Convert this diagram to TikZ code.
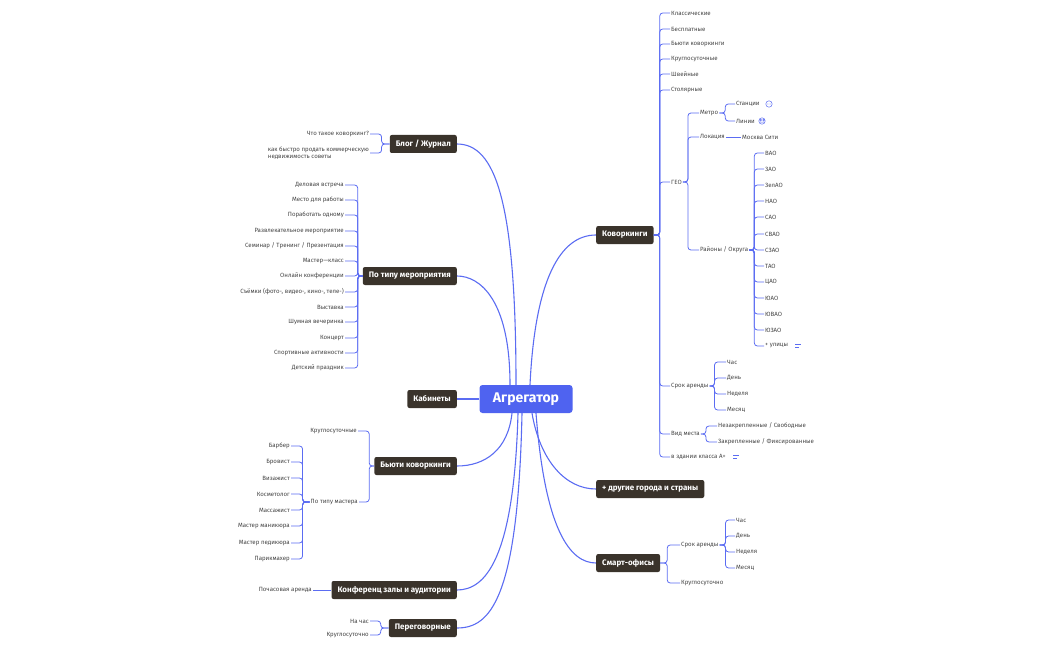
\documentclass[tikz,border=0pt]{standalone}
\usepackage{fontspec}
\setmainfont{Fira Sans}
\usetikzlibrary{backgrounds}
\definecolor{ln}{HTML}{5B6CF2}
\definecolor{dk}{HTML}{3A332B}
\definecolor{cb}{HTML}{4F63F0}
\definecolor{tx}{HTML}{444444}
\tikzset{
 main/.style={fill=dk,text=white,rounded corners=2pt,font=\fontsize{8}{9}\selectfont\bfseries,minimum height=18pt,inner xsep=6pt},
 lw/.style={anchor=west,inner sep=1pt,text=tx,font=\fontsize{6.1}{7}\selectfont},
 le/.style={anchor=east,inner sep=1pt,text=tx,font=\fontsize{6.1}{7}\selectfont},
 br/.style={draw=ln,line width=0.8pt,rounded corners=3pt},
 mc/.style={draw=ln,line width=1.1pt},
 ic/.style={draw=ln,line width=0.5pt}
}
\begin{document}
\begin{tikzpicture}[x=1pt,y=-1pt]
\useasboundingbox (0,0) rectangle (1050,650);
\node[fill=cb,text=white,rounded corners=3pt,minimum width=93pt,minimum height=28pt,font=\fontsize{14}{15}\selectfont\bfseries] (c) at (526,399) {Агрегатор};
% main nodes
\node[main,anchor=east] (blog) at (457,144) {Блог / Журнал};
\node[main,anchor=east] (ev) at (457,276) {По типу мероприятия};
\node[main,anchor=east] (kab) at (457,399) {Кабинеты};
\node[main,anchor=east] (beauty) at (457,466) {Бьюти коворкинги};
\node[main,anchor=east] (conf) at (457,590) {Конференц залы и аудитории};
\node[main,anchor=east] (neg) at (457,628) {Переговорные};
\node[main,anchor=west] (kw) at (596,235) {Коворкинги};
\node[main,anchor=west] (oth) at (596,489) {+ другие города и страны};
\node[main,anchor=west] (sm) at (596,563) {Смарт-офисы};
\begin{scope}[on background layer]
\draw[mc] ([xshift=-10pt]c.north) .. controls (516,200) and (495,144) .. (blog.east);
\draw[mc] ([xshift=-16pt]c.north) .. controls (510,300) and (480,276) .. (ev.east);
\draw[mc] (c.west) -- (kab.east);
\draw[mc] ([xshift=-14pt]c.south) .. controls (508,450) and (485,466) .. (beauty.east);
\draw[mc] ([xshift=-8pt]c.south) .. controls (514,560) and (485,590) .. (conf.east);
\draw[mc] ([xshift=-4pt]c.south) .. controls (518,600) and (490,628) .. (neg.east);
\draw[mc] ([xshift=4pt]c.north) .. controls (535,280) and (560,235) .. (kw.west);
\draw[mc] ([xshift=6pt]c.south) .. controls (540,460) and (565,489) .. (oth.west);
\draw[mc] ([xshift=10pt]c.south) .. controls (545,530) and (570,563) .. (sm.west);
\end{scope}
% Коворкинги
\foreach \n/\t/\y in {k1/Классические/13,k2/Бесплатные/29,k3/Бьюти коворкинги/44,k4/Круглосуточные/59,k5/Швейные/74,k6/Столярные/90,geo/ГЕО/182,srok/Срок аренды/386,vid/Вид места/434,cls/в здании класса А+/457}
 {\node[lw] (\n) at (670,\y) {\t}; \draw[br] (kw.east) -- ++(6,0) |- (\n.west);}
\foreach \n/\t/\y in {metro/Метро/113,loc/Локация/137,rai/{Районы / Округа}/250}
 {\node[lw] (\n) at (699,\y) {\t}; \draw[br] (geo.east) -- ++(5,0) |- (\n.west);}
\foreach \n/\t/\y in {st/Станции/104,li/Линии/121}
 {\node[lw] (\n) at (735,\y) {\t}; \draw[br] (metro.east) -- ++(6,0) |- (\n.west);}
\node[lw] (msk) at (741,137) {Москва Сити};
\draw[br] (loc.east) -- (msk.west);
\foreach \n/\t/\y in {r1/ВАО/153,r2/ЗАО/169,r3/ЗелАО/185,r4/НАО/201,r5/САО/217,r6/СВАО/234,r7/СЗАО/250,r8/ТАО/266,r9/ЦАО/282,r10/ЮАО/298,r11/ЮВАО/314,r12/ЮЗАО/330,r13/+ улицы/346}
 {\node[lw] (\n) at (764,\y) {\t}; \draw[br] (rai.east) -- ++(5,0) |- (\n.west);}
\foreach \n/\t/\y in {s1/Час/362,s2/День/378,s3/Неделя/394,s4/Месяц/410}
 {\node[lw] (\n) at (726,\y) {\t}; \draw[br] (srok.east) -- ++(5,0) |- (\n.west);}
\foreach \n/\t/\y in {v1/{Незакрепленные / Свободные}/426,v2/{Закрепленные / Фиксированные}/442}
 {\node[lw] (\n) at (717,\y) {\t}; \draw[br] (vid.east) -- ++(5,0) |- (\n.west);}
% icons
\draw[ic] (769,104) circle (3.2);
\foreach \dx in {-1.3,0,1.3} \fill[ln] (769+\dx,104) circle (0.35);
\draw[ic] (762,121) circle (3.2);
\draw[ic] (760.5,120) circle (0.9) (763.5,120) circle (0.9) (760,122.2) -- (764,122.2);
\draw[ic] (795,344.5) -- (801,344.5) (795,347) -- (799,347);
\draw[ic] (733,455.5) -- (739,455.5) (733,458) -- (737,458);
% Блог
\node[le] (b1) at (370,134) {Что такое коворкинг?};
\node[le,align=left] (b2) at (370,153) {как быстро продать коммерческую\\недвижимость советы};
\foreach \n in {b1,b2} \draw[br] (blog.west) -- ++(-8,0) |- (\n.east);
% мероприятия
\foreach \n/\t/\y in {e1/Деловая встреча/185,e2/Место для работы/200,e3/Поработать одному/215,e4/Развлекательное мероприятие/231,e5/{Семинар / Тренинг / Презентация}/246,e6/Мастер—класс/261,e7/Онлайн конференции/276,e8/{Съёмки (фото-, видео-, кино-, теле-)}/292,e9/Выставка/307,e10/Шумная вечеринка/322,e11/Концерт/338,e12/Спортивные активности/353,e13/Детский праздник/368}
 {\node[le] (\n) at (345,\y) {\t}; \draw[br] (ev.west) -- ++(-5,0) |- (\n.east);}
% Бьюти
\node[le] (bt1) at (358,431) {Круглосуточные};
\node[le] (bt2) at (359,502) {По типу мастера};
\foreach \n in {bt1,bt2} \draw[br] (beauty.west) -- ++(-5,0) |- (\n.east);
\foreach \n/\t/\y in {m1/Барбер/446,m2/Бровист/462,m3/Визажист/478,m4/Косметолог/494,m5/Массажист/510,m6/Мастер маникюра/526,m7/Мастер педикюра/543,m8/Парикмахер/559}
 {\node[le] (\n) at (291,\y) {\t}; \draw[br] (bt2.west) -- ++(-7,0) |- (\n.east);}
% Конференц
\node[le] (cf1) at (313,590) {Почасовая аренда};
\draw[br] (conf.west) -- (cf1.east);
% Переговорные
\node[le] (n1) at (370,621) {На час};
\node[le] (n2) at (370,635) {Круглосуточно};
\foreach \n in {n1,n2} \draw[br] (neg.west) -- ++(-8,0) |- (\n.east);
% Смарт-офисы
\node[lw] (so1) at (680,545) {Срок аренды};
\node[lw] (so2) at (680,583) {Круглосуточно};
\foreach \n in {so1,so2} \draw[br] (sm.east) -- ++(7,0) |- (\n.west);
\foreach \n/\t/\y in {t1/Час/520,t2/День/536,t3/Неделя/552,t4/Месяц/568}
 {\node[lw] (\n) at (735,\y) {\t}; \draw[br] (so1.east) -- ++(6,0) |- (\n.west);}
\end{tikzpicture}
\end{document}
